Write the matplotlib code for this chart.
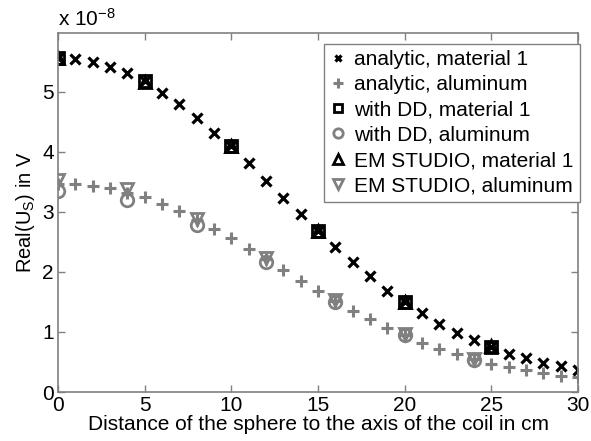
import matplotlib
matplotlib.use("Agg")
import matplotlib.pyplot as plt
import numpy as np

plt.rcParams['font.family'] = ['Liberation Sans', 'DejaVu Sans']
plt.rcParams['mathtext.fontset'] = 'custom'
plt.rcParams['mathtext.rm'] = 'Liberation Sans'
plt.rcParams['mathtext.it'] = 'Liberation Sans'

# distances in cm
x_analytic = list(range(0, 31))
# values in units of 1e-8 V
analytic_mat1 = [5.57, 5.54, 5.49, 5.42, 5.31, 5.18, 4.98, 4.79, 4.57, 4.32,
                 4.10, 3.81, 3.52, 3.23, 2.96, 2.69, 2.41, 2.16, 1.93, 1.69,
                 1.50, 1.31, 1.14, 0.98, 0.86, 0.75, 0.64, 0.57, 0.48, 0.43, 0.37]
analytic_alu = [3.47, 3.46, 3.43, 3.39, 3.32, 3.24, 3.13, 3.01, 2.86, 2.71,
                2.57, 2.39, 2.21, 2.03, 1.85, 1.68, 1.52, 1.35, 1.21, 1.07,
                0.95, 0.82, 0.72, 0.63, 0.55, 0.47, 0.42, 0.36, 0.31, 0.27, 0.25]

x_dd_mat1 = [0, 5, 10, 15, 20, 25]
dd_mat1 = [5.57, 5.18, 4.10, 2.69, 1.50, 0.75]
x_dd_alu = [0, 4, 8, 12, 16, 20, 24]
dd_alu = [3.34, 3.19, 2.78, 2.17, 1.50, 0.95, 0.54]

x_em_mat1 = [0, 5, 10, 15, 20, 25]
em_mat1 = [5.56, 5.17, 4.09, 2.69, 1.50, 0.76]
x_em_alu = [0, 4, 8, 12, 16, 20, 24]
em_alu = [3.53, 3.38, 2.89, 2.24, 1.53, 0.96, 0.55]

gray = '#808080'

fig = plt.figure(figsize=(5.91, 4.41), dpi=100)
ax = fig.add_axes([58/591, 49/441, 520/591, 359/441])

ax.plot(x_analytic, analytic_mat1, linestyle='none', marker='x', color='black',
        markersize=6.5, markeredgewidth=2.3, label='analytic, material 1')
ax.plot(x_analytic, analytic_alu, linestyle='none', marker='+', color=gray,
        markersize=9, markeredgewidth=2.2, label='analytic, aluminum')
ax.plot(x_dd_mat1, dd_mat1, linestyle='none', marker='s', color='black',
        markerfacecolor='none', markersize=8, markeredgewidth=2, label='with DD, material 1')
ax.plot(x_dd_alu, dd_alu, linestyle='none', marker='o', color=gray,
        markerfacecolor='none', markersize=9, markeredgewidth=2, label='with DD, aluminum')
ax.plot(x_em_mat1, em_mat1, linestyle='none', marker='^', color='black',
        markerfacecolor='none', markersize=9, markeredgewidth=2, label='EM STUDIO, material 1')
ax.plot(x_em_alu, em_alu, linestyle='none', marker='v', color=gray,
        markerfacecolor='none', markersize=9, markeredgewidth=2, label='EM STUDIO, aluminum')

ax.set_xlim(0, 30)
ax.set_ylim(0, 5.98)
ax.set_xticks([0, 5, 10, 15, 20, 25, 30])
ax.set_yticks([0, 1, 2, 3, 4, 5])
ax.tick_params(direction='in', top=True, right=True, length=5, width=1,
               color=gray, labelsize=15, pad=3)
for sp in ax.spines.values():
    sp.set_color(gray)
    sp.set_linewidth(1.2)

ax.set_xlabel('Distance of the sphere to the axis of the coil in cm', fontsize=15, labelpad=0)
ax.set_ylabel('Real(U$_\\mathrm{S}$) in V', fontsize=14.5, labelpad=4)
ax.text(0.0, 1.008, 'x 10$^{-8}$', transform=ax.transAxes, fontsize=15,
        ha='left', va='bottom')

leg = ax.legend(loc='upper right', bbox_to_anchor=(1.004, 0.97), fontsize=15,
                frameon=True, fancybox=False, handlelength=0.7, handletextpad=0.45,
                borderpad=0.3, labelspacing=0.3, borderaxespad=0.0,
                framealpha=1.0, markerscale=0.75)
leg.get_frame().set_edgecolor(gray)
leg.get_frame().set_linewidth(1.0)

fig.savefig('out.png', dpi=100)
